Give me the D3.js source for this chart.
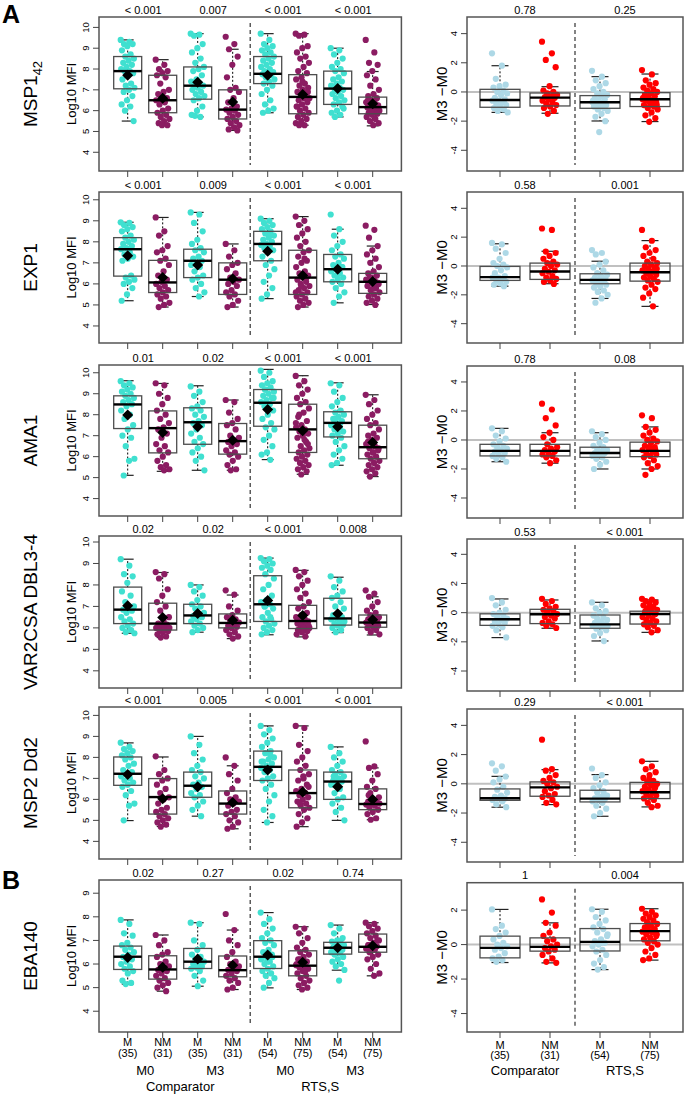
<!DOCTYPE html>
<html>
<head>
<meta charset="utf-8">
<script src="https://cdn.jsdelivr.net/npm/d3@7"></script>
<style>
  body { margin: 0; background: #fff; }
  svg { display: block; }
  text { font-family: "Liberation Sans", Arial, Helvetica, sans-serif; fill: #000; }
</style>
</head>
<body>
<svg id="chart" width="685" height="1094"></svg>
<script>
// ---- data ----
const antigens = ['MSP1', 'EXP1', 'AMA1', 'VAR2CSA DBL3-4', 'MSP2 Dd2', 'EBA140']
const groupLabels = ['M', 'NM', 'M', 'NM', 'M', 'NM', 'M', 'NM']
const groupN = ['(35)', '(31)', '(35)', '(31)', '(54)', '(75)', '(54)', '(75)']
const diffLabels = ['M', 'NM', 'M', 'NM']
const diffN = ['(35)', '(31)', '(54)', '(75)']
const timeLabels = ['M0', 'M3', 'M0', 'M3']
const armLabels = ['Comparator', 'RTS,S']

const pLeft = [
  ['< 0.001', '0.007', '< 0.001', '< 0.001'],
  ['< 0.001', '0.009', '< 0.001', '< 0.001'],
  ['0.01', '0.02', '< 0.001', '< 0.001'],
  ['0.02', '0.02', '< 0.001', '0.008'],
  ['< 0.001', '0.005', '< 0.001', '< 0.001'],
  ['0.02', '0.27', '0.02', '0.74']
]
const pRight = [
  ['0.78', '0.25'], ['0.58', '0.001'], ['0.78', '0.08'],
  ['0.53', '< 0.001'], ['0.29', '< 0.001'], ['1', '0.004']
]

// box stats per group: [lower whisker, q1, median, q3, upper whisker, mean]
const msp1Box = [[5.5, 7.05, 7.9, 8.6, 9.4, 7.7], [5.3, 5.9, 6.5, 7.7, 8.45, 6.6], [5.7, 6.55, 7.2, 8.1, 9.7, 7.37], [5.05, 5.6, 6.05, 7.0, 8.95, 6.42],
  [5.9, 7.3, 7.77, 8.6, 9.7, 7.7], [5.3, 5.85, 6.66, 7.73, 9.7, 6.77], [5.7, 6.3, 7.06, 7.9, 9.0, 7.06], [5.27, 5.85, 6.17, 6.65, 7.88, 6.33]]
const exp1Box = [[5.2, 6.37, 7.65, 8.2, 8.93, 7.34], [4.9, 5.59, 6.07, 7.12, 9.16, 6.31], [5.4, 6.3, 7.1, 7.65, 9.4, 6.9], [4.9, 5.5, 6.2, 7.0, 7.9, 6.25],
  [5.3, 7.1, 7.9, 8.5, 9.1, 7.55], [4.9, 5.5, 6.3, 7.6, 9.2, 6.4], [5.1, 6.1, 6.7, 7.4, 8.6, 6.7], [5.02, 5.55, 6.1, 6.5, 7.8, 6.12]]
const ama1Box = [[5.11, 7.34, 8.49, 8.9, 9.62, 7.98], [5.3, 6.18, 7.36, 8.18, 9.49, 7.15], [5.35, 6.59, 7.64, 8.33, 9.38, 7.42], [5.35, 6.12, 6.74, 7.58, 8.7, 6.78],
  [5.86, 7.45, 8.57, 9.2, 10.16, 8.25], [5.16, 6.2, 7.3, 8.5, 9.86, 7.23], [5.59, 6.94, 7.61, 8.14, 9.52, 7.42], [5.05, 5.9, 6.45, 7.5, 8.95, 6.68]]
const var2Box = [[5.75, 6.2, 6.85, 7.9, 9.2, 7.03], [5.55, 5.9, 6.2, 7.15, 8.58, 6.48], [5.8, 6.2, 6.58, 7.1, 8.0, 6.67], [5.5, 6.0, 6.23, 6.65, 7.53, 6.36],
  [5.68, 6.3, 7.1, 8.43, 9.25, 7.27], [5.58, 5.97, 6.32, 7.05, 8.68, 6.58], [5.78, 6.13, 6.44, 7.38, 8.36, 6.66], [5.67, 6.03, 6.25, 6.6, 7.45, 6.38]]
const msp2Box = [[4.99, 6.67, 7.22, 8.02, 8.69, 7.18], [4.71, 5.3, 6.11, 6.99, 8.02, 6.03], [5.2, 6.1, 6.65, 7.3, 9.0, 6.6], [4.6, 5.3, 5.8, 6.4, 7.6, 5.85],
  [4.9, 6.9, 7.55, 8.3, 9.5, 7.4], [4.7, 5.6, 6.3, 7.4, 9.5, 6.35], [5.0, 6.0, 6.85, 7.3, 8.5, 6.6], [5.03, 5.51, 5.78, 6.5, 7.5, 5.99]]
const eba140Box = [[5.15, 5.77, 6.31, 6.76, 7.87, 6.28], [4.85, 5.36, 5.77, 6.35, 7.23, 5.86], [5.06, 5.81, 6.1, 6.66, 7.75, 6.21], [4.92, 5.46, 5.74, 6.34, 7.44, 5.95],
  [4.99, 5.81, 6.31, 6.99, 8.18, 6.38], [4.92, 5.5, 5.93, 6.56, 7.58, 6.07], [5.74, 6.42, 6.69, 6.92, 7.65, 6.69], [5.5, 6.5, 6.73, 7.27, 7.75, 6.77]]

// M3 - M0 box stats: [lower whisker, q1, median, q3, upper whisker]
const msp1DiffBox = [[-1.4, -1.05, -0.55, 0.18, 1.8], [-1.46, -0.96, -0.39, -0.07, 0.36], [-1.99, -1.12, -0.71, -0.25, 1.05], [-2.03, -1.0, -0.5, -0.05, 1.23]]
const exp1DiffBox = [[-1.4, -1.0, -0.77, -0.03, 1.54], [-1.23, -0.93, -0.38, 0.2, 1.02], [-2.25, -1.23, -0.96, -0.54, 0.33], [-2.8, -1.05, -0.43, 0.2, 1.76]]
const ama1DiffBox = [[-1.5, -1.1, -0.75, -0.3, 0.8], [-1.6, -1.1, -0.75, -0.3, 0.5], [-2.0, -1.2, -0.9, -0.5, 0.5], [-2.0, -1.15, -0.75, -0.15, 0.9]]
const var2DiffBox = [[-1.71, -0.87, -0.45, -0.08, 0.94], [-1.07, -0.75, -0.11, 0.23, 0.87], [-1.94, -1.07, -0.8, -0.16, 0.71], [-1.35, -0.78, -0.1, 0.1, 0.87]]
const msp2DiffBox = [[-1.6, -1.13, -0.99, -0.35, 0.51], [-1.42, -0.85, -0.24, 0.13, 0.97], [-2.22, -1.24, -1.01, -0.44, 0.63], [-1.58, -1.01, -0.58, 0.1, 1.54]]
const eba140DiffBox = [[-1.04, -0.77, -0.19, 0.49, 2.04], [-1.06, -0.38, -0.13, 0.39, 1.26], [-1.45, -0.37, 0.16, 0.93, 2.05], [-0.9, 0.22, 0.78, 1.22, 2.08]]

// individual log10 MFI values, 8 groups per antigen
const msp1Pts = [
  [9.4, 9.3, 9.2, 9.2, 9.1, 8.9, 8.7, 8.6, 8.5, 8.4, 8.3, 8.2, 8.1, 8.0, 7.9, 7.9, 7.8, 7.7, 7.5, 7.3, 7.2, 7.1, 7.0, 6.9, 6.7, 6.5, 6.3, 6.2, 6.0, 5.5],
  [8.45, 8.2, 8.0, 7.9, 7.8, 7.7, 7.6, 7.3, 7.0, 6.9, 6.8, 6.6, 6.5, 6.5, 6.4, 6.3, 6.1, 6.0, 5.9, 5.8, 5.7, 5.6, 5.5, 5.4, 5.3, 5.3],
  [9.7, 9.65, 9.6, 9.2, 9.0, 8.8, 8.5, 8.3, 8.1, 8.0, 7.9, 7.7, 7.5, 7.4, 7.3, 7.2, 7.2, 7.1, 7.0, 6.9, 6.8, 6.7, 6.6, 6.5, 6.2, 6.0, 5.8, 5.7, 5.75],
  [9.55, 9.2, 8.95, 8.6, 8.2, 7.6, 7.1, 7.0, 6.9, 6.6, 6.4, 6.2, 6.1, 6.05, 6.0, 5.9, 5.8, 5.7, 5.6, 5.5, 5.4, 5.3, 5.2, 5.1, 5.05],
  [9.7, 9.4, 9.2, 9.1, 9.0, 8.9, 8.8, 8.7, 8.6, 8.5, 8.4, 8.3, 8.2, 8.1, 8.0, 7.9, 7.85, 7.8, 7.75, 7.7, 7.6, 7.5, 7.4, 7.3, 7.2, 7.0, 6.8, 6.5, 6.3, 6.1, 6.0, 5.9],
  [9.7, 9.65, 9.6, 9.1, 9.0, 8.8, 8.6, 8.5, 8.3, 8.1, 7.9, 7.8, 7.6, 7.5, 7.3, 7.2, 7.1, 7.0, 6.9, 6.8, 6.7, 6.6, 6.6, 6.5, 6.4, 6.3, 6.2, 6.1, 6.0, 5.9, 5.8, 5.7, 5.6, 5.5, 5.4, 5.3, 5.3, 6.9, 7.4, 6.2],
  [9.0, 8.9, 8.7, 8.5, 8.3, 8.1, 8.0, 7.9, 7.8, 7.6, 7.5, 7.4, 7.3, 7.2, 7.1, 7.05, 7.0, 6.9, 6.8, 6.7, 6.6, 6.5, 6.4, 6.3, 6.2, 6.0, 5.9, 5.8, 5.7, 6.1],
  [9.4, 8.8, 8.3, 8.2, 7.9, 7.7, 7.5, 7.2, 7.0, 6.8, 6.7, 6.6, 6.5, 6.4, 6.35, 6.3, 6.25, 6.2, 6.15, 6.1, 6.05, 6.0, 5.95, 5.9, 5.85, 5.8, 5.7, 5.6, 5.5, 5.4, 5.3, 6.5, 6.2, 6.0]
]
const exp1Pts = [
  [8.93, 8.9, 8.8, 8.7, 8.6, 8.5, 8.3, 8.2, 8.1, 8.0, 7.9, 7.8, 7.7, 7.65, 7.5, 7.4, 7.3, 7.2, 7.1, 6.4, 6.3, 6.2, 6.1, 6.0, 5.8, 5.5, 5.2],
  [9.16, 8.5, 8.3, 7.8, 7.6, 7.5, 7.2, 7.1, 6.9, 6.6, 6.4, 6.2, 6.1, 6.0, 5.9, 5.8, 5.7, 5.6, 5.5, 5.4, 5.3, 5.1, 5.0, 4.9],
  [9.4, 9.3, 8.9, 8.5, 8.1, 7.9, 7.7, 7.6, 7.5, 7.3, 7.2, 7.1, 7.0, 6.9, 6.8, 6.6, 6.4, 6.3, 6.2, 6.0, 5.8, 5.6, 5.4],
  [7.9, 7.6, 7.3, 7.0, 6.9, 6.7, 6.5, 6.3, 6.2, 6.1, 6.0, 5.9, 5.7, 5.6, 5.5, 5.4, 5.2, 5.0, 4.9],
  [9.1, 9.0, 8.9, 8.8, 8.7, 8.6, 8.5, 8.4, 8.3, 8.2, 8.1, 8.0, 7.9, 7.85, 7.8, 7.7, 7.6, 7.5, 7.3, 7.1, 6.9, 6.7, 6.4, 6.1, 5.8, 5.5, 5.3, 8.3, 7.9],
  [9.2, 9.0, 8.8, 8.6, 8.4, 8.2, 8.0, 7.8, 7.6, 7.5, 7.3, 7.1, 7.0, 6.8, 6.6, 6.5, 6.4, 6.3, 6.2, 6.1, 6.0, 5.9, 5.8, 5.7, 5.6, 5.5, 5.4, 5.3, 5.2, 5.1, 5.0, 4.9, 6.3, 5.9, 5.6, 7.2],
  [9.3, 8.6, 8.3, 8.0, 7.8, 7.6, 7.4, 7.3, 7.2, 7.0, 6.9, 6.8, 6.7, 6.6, 6.5, 6.4, 6.3, 6.2, 6.1, 6.0, 5.8, 5.6, 5.4, 5.1, 6.8, 6.4],
  [8.77, 8.57, 8.2, 7.8, 7.6, 7.4, 7.2, 7.0, 6.8, 6.6, 6.5, 6.4, 6.3, 6.2, 6.15, 6.1, 6.05, 6.0, 5.9, 5.8, 5.7, 5.6, 5.5, 5.4, 5.3, 5.2, 5.1, 5.0, 6.3, 6.0, 5.8, 6.1]
]
const ama1Pts = [
  [9.6, 9.5, 9.4, 9.3, 9.2, 9.1, 9.0, 8.9, 8.8, 8.7, 8.6, 8.5, 8.4, 8.2, 8.0, 7.8, 7.5, 7.3, 7.0, 6.9, 6.5, 5.9, 5.8, 5.1],
  [9.5, 9.4, 9.0, 8.8, 8.5, 8.2, 8.0, 7.8, 7.6, 7.4, 7.3, 7.1, 6.9, 6.6, 6.5, 6.3, 6.2, 6.0, 5.8, 5.6, 5.5, 5.4, 5.35],
  [9.35, 9.1, 8.9, 8.6, 8.4, 8.3, 8.2, 8.0, 7.9, 7.7, 7.6, 7.5, 7.3, 7.1, 6.9, 6.7, 6.6, 6.4, 6.2, 6.0, 5.8, 5.35],
  [8.7, 8.6, 8.1, 7.8, 7.6, 7.5, 7.3, 7.0, 6.9, 6.8, 6.7, 6.6, 6.5, 6.3, 6.2, 6.1, 6.0, 5.8, 5.6, 5.4, 5.35],
  [10.1, 10.0, 9.8, 9.6, 9.5, 9.4, 9.3, 9.2, 9.1, 9.0, 8.9, 8.8, 8.7, 8.6, 8.5, 8.4, 8.2, 8.0, 7.8, 7.6, 7.4, 7.3, 7.0, 6.8, 6.5, 6.2, 6.1, 5.85, 9.2, 8.8],
  [9.85, 9.6, 9.4, 9.2, 9.0, 8.8, 8.6, 8.5, 8.3, 8.1, 7.9, 7.7, 7.5, 7.4, 7.3, 7.2, 7.1, 7.0, 6.9, 6.7, 6.5, 6.4, 6.3, 6.2, 6.1, 6.0, 5.9, 5.8, 5.7, 5.6, 5.5, 5.4, 5.3, 5.15, 7.6, 6.8, 8.0, 6.6],
  [9.5, 9.4, 9.1, 8.8, 8.6, 8.4, 8.2, 8.1, 8.0, 7.9, 7.8, 7.7, 7.6, 7.5, 7.4, 7.3, 7.2, 7.1, 7.0, 6.9, 6.7, 6.5, 6.3, 6.1, 5.9, 5.7, 5.6, 7.6, 7.8],
  [8.95, 8.7, 8.5, 8.2, 8.0, 7.8, 7.6, 7.5, 7.3, 7.1, 7.0, 6.9, 6.8, 6.6, 6.5, 6.4, 6.3, 6.2, 6.1, 6.0, 5.9, 5.8, 5.7, 5.6, 5.5, 5.4, 5.3, 5.2, 5.05, 6.4, 6.2, 6.7]
]
const var2Pts = [
  [9.2, 8.9, 8.5, 8.4, 8.1, 7.7, 7.5, 7.2, 7.0, 6.9, 6.85, 6.8, 6.7, 6.5, 6.4, 6.3, 6.2, 6.1, 6.0, 5.9, 5.8, 5.75],
  [8.6, 8.5, 8.3, 7.8, 7.5, 7.2, 7.0, 6.8, 6.5, 6.3, 6.2, 6.15, 6.1, 6.0, 5.95, 5.9, 5.85, 5.8, 5.7, 5.6, 5.55, 6.0, 5.9],
  [8.0, 7.9, 7.7, 7.5, 7.3, 7.1, 7.0, 6.9, 6.7, 6.6, 6.55, 6.5, 6.4, 6.3, 6.2, 6.1, 6.0, 5.9, 5.8],
  [7.75, 7.55, 7.0, 6.8, 6.6, 6.5, 6.4, 6.3, 6.25, 6.2, 6.1, 6.05, 6.0, 5.9, 5.8, 5.7, 5.6, 5.5],
  [9.25, 9.2, 9.1, 9.0, 8.9, 8.8, 8.7, 8.5, 8.3, 8.0, 7.8, 7.5, 7.3, 7.2, 7.1, 7.0, 6.9, 6.7, 6.5, 6.4, 6.3, 6.2, 6.1, 6.0, 5.9, 5.8, 5.7, 6.5, 7.0],
  [8.7, 8.6, 8.4, 8.2, 8.0, 7.8, 7.6, 7.4, 7.2, 7.0, 6.9, 6.7, 6.6, 6.5, 6.4, 6.35, 6.3, 6.25, 6.2, 6.1, 6.05, 6.0, 5.95, 5.9, 5.85, 5.8, 5.7, 5.6, 6.3, 6.1, 6.0, 5.9],
  [8.4, 8.2, 7.9, 7.7, 7.5, 7.4, 7.2, 7.0, 6.9, 6.7, 6.6, 6.5, 6.45, 6.4, 6.3, 6.2, 6.15, 6.1, 6.0, 5.9, 5.8, 6.3, 6.2],
  [7.75, 7.6, 7.45, 7.2, 7.0, 6.8, 6.7, 6.6, 6.5, 6.45, 6.4, 6.35, 6.3, 6.25, 6.2, 6.15, 6.1, 6.05, 6.0, 5.9, 5.8, 5.7, 6.3, 6.2, 6.4]
]
const msp2Pts = [
  [8.7, 8.5, 8.4, 8.3, 8.2, 8.1, 8.0, 7.9, 7.7, 7.6, 7.4, 7.3, 7.2, 7.1, 7.0, 6.9, 6.8, 6.7, 6.6, 6.4, 6.2, 5.8, 5.7, 5.0],
  [8.05, 7.4, 7.2, 7.0, 6.9, 6.7, 6.5, 6.3, 6.1, 6.0, 5.8, 5.6, 5.5, 5.4, 5.3, 5.2, 5.1, 5.0, 4.9, 4.8, 4.7],
  [9.0, 8.6, 8.2, 7.9, 7.6, 7.4, 7.3, 7.1, 7.0, 6.8, 6.7, 6.6, 6.5, 6.3, 6.2, 6.1, 5.9, 5.7, 5.5, 5.2],
  [8.0, 7.6, 7.2, 6.9, 6.5, 6.3, 6.1, 6.0, 5.9, 5.8, 5.7, 5.5, 5.4, 5.3, 5.2, 5.0, 4.9, 4.7, 4.6],
  [9.5, 9.3, 9.1, 8.9, 8.7, 8.5, 8.3, 8.2, 8.0, 7.9, 7.8, 7.7, 7.6, 7.5, 7.4, 7.3, 7.1, 7.0, 6.9, 6.7, 6.5, 6.2, 5.9, 5.5, 5.2, 4.9, 7.8, 8.1],
  [9.5, 9.4, 8.6, 8.3, 8.0, 7.8, 7.6, 7.4, 7.2, 7.0, 6.9, 6.7, 6.5, 6.4, 6.3, 6.2, 6.1, 6.0, 5.9, 5.8, 5.7, 5.6, 5.5, 5.3, 5.1, 4.9, 4.7, 6.3, 5.8, 6.6, 7.1],
  [8.5, 8.2, 8.0, 7.8, 7.6, 7.4, 7.3, 7.2, 7.1, 7.0, 6.9, 6.85, 6.8, 6.7, 6.5, 6.3, 6.1, 6.0, 5.8, 5.6, 5.4, 5.0, 6.9, 7.1],
  [8.76, 7.57, 7.5, 7.2, 6.9, 6.6, 6.5, 6.3, 6.1, 6.0, 5.9, 5.85, 5.8, 5.75, 5.7, 5.6, 5.5, 5.4, 5.3, 5.1, 5.03, 5.8, 5.9, 6.2]
]
const eba140Pts = [
  [7.87, 7.7, 7.3, 7.2, 6.9, 6.8, 6.7, 6.6, 6.5, 6.4, 6.3, 6.2, 6.1, 6.0, 5.9, 5.8, 5.7, 5.6, 5.3, 5.2, 5.15],
  [7.23, 7.0, 6.8, 6.5, 6.4, 6.3, 6.1, 6.0, 5.9, 5.8, 5.75, 5.7, 5.6, 5.5, 5.4, 5.3, 5.2, 5.1, 5.0, 4.85],
  [7.75, 7.7, 7.0, 6.8, 6.6, 6.4, 6.3, 6.2, 6.1, 6.05, 6.0, 5.9, 5.85, 5.8, 5.7, 5.5, 5.3, 5.06],
  [8.12, 7.44, 7.0, 6.8, 6.5, 6.3, 6.1, 6.0, 5.9, 5.8, 5.75, 5.7, 5.6, 5.5, 5.4, 5.3, 5.2, 5.0, 4.92],
  [8.18, 7.9, 7.7, 7.5, 7.3, 7.1, 7.0, 6.9, 6.8, 6.6, 6.5, 6.4, 6.3, 6.2, 6.1, 6.0, 5.9, 5.8, 5.7, 5.6, 5.5, 5.4, 5.2, 5.0, 6.3, 6.1],
  [7.58, 7.5, 7.3, 7.1, 6.9, 6.7, 6.6, 6.5, 6.4, 6.3, 6.2, 6.1, 6.0, 5.95, 5.9, 5.85, 5.8, 5.7, 5.6, 5.5, 5.4, 5.3, 5.2, 5.1, 5.0, 4.92, 6.0, 5.7, 6.2],
  [7.65, 7.5, 7.3, 7.1, 7.0, 6.95, 6.9, 6.85, 6.8, 6.75, 6.7, 6.65, 6.6, 6.5, 6.45, 6.4, 6.3, 6.2, 6.1, 6.0, 5.9, 5.75, 5.3, 6.7, 6.6],
  [7.75, 7.7, 7.6, 7.5, 7.4, 7.3, 7.2, 7.1, 7.0, 6.9, 6.8, 6.75, 6.7, 6.65, 6.6, 6.5, 6.4, 6.3, 6.2, 6.0, 5.8, 5.6, 5.5, 6.8, 7.0, 6.6]
]

// M3 - M0 differences, 4 groups per antigen
const msp1Diff = [
  [2.65, 1.8, 0.9, 0.5, 0.4, 0.3, 0.1, 0.0, -0.1, -0.2, -0.4, -0.5, -0.6, -0.6, -0.7, -0.8, -0.9, -1.0, -1.1, -1.2, -1.3, -1.4],
  [3.45, 2.65, 2.2, 1.7, 0.4, 0.1, 0.0, -0.1, -0.2, -0.3, -0.35, -0.4, -0.5, -0.6, -0.7, -0.8, -0.9, -1.0, -1.1, -1.3, -1.5],
  [1.45, 1.05, 0.8, 0.6, 0.4, 0.2, 0.0, -0.1, -0.2, -0.3, -0.4, -0.5, -0.6, -0.7, -0.75, -0.8, -0.9, -1.0, -1.0, -1.1, -1.2, -1.3, -1.5, -1.7, -2.0, -2.75, -0.6, -0.9],
  [1.5, 1.2, 0.8, 0.6, 0.5, 0.3, 0.2, 0.1, 0.0, -0.1, -0.2, -0.3, -0.4, -0.5, -0.55, -0.6, -0.7, -0.8, -0.9, -1.0, -1.1, -1.2, -1.4, -1.6, -1.8, -2.05, -0.4, -0.7, -0.3, -0.9]
]
const exp1Diff = [
  [1.6, 1.5, 1.2, 0.9, 0.5, 0.2, 0.1, 0.0, -0.1, -0.3, -0.5, -0.7, -0.8, -0.8, -0.9, -1.0, -1.1, -1.2, -1.3, -1.4],
  [2.6, 2.5, 1.0, 0.9, 0.7, 0.5, 0.3, 0.2, 0.1, 0.0, -0.2, -0.3, -0.4, -0.5, -0.7, -0.8, -0.9, -1.0, -1.1, -1.25],
  [1.1, 0.9, 0.8, 0.3, 0.1, -0.1, -0.3, -0.5, -0.6, -0.7, -0.8, -0.9, -0.95, -1.0, -1.1, -1.2, -1.3, -1.4, -1.5, -1.7, -1.8, -2.0, -2.25, -2.55, -0.9, -1.1],
  [2.5, 1.75, 1.3, 1.1, 0.9, 0.7, 0.5, 0.3, 0.2, 0.1, 0.0, -0.1, -0.2, -0.3, -0.4, -0.5, -0.6, -0.7, -0.8, -0.9, -1.0, -1.1, -1.3, -1.5, -1.6, -1.9, -2.2, -2.8, -0.4, -0.2]
]
const ama1Diff = [
  [0.8, 0.6, 0.3, 0.1, -0.1, -0.3, -0.4, -0.5, -0.6, -0.7, -0.8, -0.9, -1.0, -1.1, -1.2, -1.3, -1.5],
  [2.5, 2.1, 1.5, 1.0, 0.5, 0.2, 0.0, -0.3, -0.5, -0.6, -0.7, -0.8, -0.9, -1.0, -1.1, -1.2, -1.4, -1.6],
  [0.6, 0.4, 0.2, 0.0, -0.2, -0.4, -0.5, -0.6, -0.7, -0.8, -0.9, -0.9, -1.0, -1.1, -1.2, -1.3, -1.5, -1.7, -2.0, -0.8, -1.0],
  [1.7, 1.5, 0.9, 0.7, 0.5, 0.3, 0.1, 0.0, -0.1, -0.2, -0.4, -0.5, -0.6, -0.7, -0.8, -0.9, -1.0, -1.1, -1.2, -1.4, -1.6, -1.8, -2.0, -2.4, -0.7, -0.5]
]
const var2Diff = [
  [1.0, 0.7, 0.5, 0.2, 0.0, -0.1, -0.2, -0.3, -0.4, -0.5, -0.6, -0.7, -0.8, -0.9, -1.0, -1.2, -1.7],
  [0.95, 0.8, 0.6, 0.4, 0.3, 0.2, 0.1, 0.0, -0.1, -0.2, -0.3, -0.4, -0.6, -0.7, -0.8, -0.9, -1.05],
  [0.7, 0.5, 0.3, 0.1, 0.0, -0.2, -0.3, -0.4, -0.5, -0.6, -0.7, -0.8, -0.85, -0.9, -1.0, -1.1, -1.2, -1.4, -1.6, -1.95, -0.7, -0.9],
  [0.95, 0.9, 0.8, 0.7, 0.6, 0.5, 0.4, 0.3, 0.2, 0.1, 0.0, -0.1, -0.2, -0.3, -0.4, -0.5, -0.6, -0.7, -0.8, -0.9, -1.0, -1.2, -1.35, 0.1, -0.1, 0.3]
]
const msp2Diff = [
  [1.4, 1.2, 0.9, 0.5, 0.3, 0.1, -0.2, -0.4, -0.6, -0.8, -0.9, -1.0, -1.0, -1.1, -1.2, -1.4, -1.6],
  [3.02, 1.0, 0.9, 0.6, 0.4, 0.2, 0.1, 0.0, -0.2, -0.3, -0.5, -0.7, -0.8, -0.9, -1.1, -1.3, -1.4],
  [1.05, 0.6, 0.4, 0.1, -0.1, -0.3, -0.5, -0.6, -0.8, -0.9, -1.0, -1.05, -1.1, -1.2, -1.3, -1.5, -1.7, -2.0, -2.22, -0.7, -1.0],
  [1.54, 1.2, 1.0, 0.8, 0.6, 0.4, 0.2, 0.1, 0.0, -0.1, -0.2, -0.3, -0.4, -0.5, -0.6, -0.7, -0.8, -0.9, -1.0, -1.1, -1.3, -1.5, -1.6, -0.5, -0.2, 0.3]
]
const eba140Diff = [
  [2.04, 1.1, 0.9, 0.7, 0.5, 0.3, 0.1, 0.0, -0.1, -0.2, -0.3, -0.5, -0.7, -0.8, -0.9, -1.0],
  [2.62, 1.86, 1.26, 1.1, 0.7, 0.5, 0.3, 0.2, 0.0, -0.1, -0.2, -0.3, -0.4, -0.6, -0.8, -1.0, -1.06],
  [2.05, 1.9, 1.6, 1.4, 1.2, 1.0, 0.9, 0.7, 0.5, 0.3, 0.2, 0.1, 0.0, -0.1, -0.3, -0.4, -0.6, -0.9, -1.1, -1.3, -1.45, 0.6, 0.1],
  [2.08, 1.9, 1.8, 1.7, 1.6, 1.5, 1.4, 1.3, 1.2, 1.1, 1.0, 0.9, 0.8, 0.75, 0.7, 0.6, 0.5, 0.4, 0.3, 0.2, 0.1, 0.0, -0.2, -0.4, -0.6, -0.8, -0.9, 0.8, 1.0, 0.6]
]

const boxesLeft = [msp1Box, exp1Box, ama1Box, var2Box, msp2Box, eba140Box]
const boxesRight = [msp1DiffBox, exp1DiffBox, ama1DiffBox, var2DiffBox, msp2DiffBox, eba140DiffBox]
const ptsLeft = [msp1Pts, exp1Pts, ama1Pts, var2Pts, msp2Pts, eba140Pts]
const ptsRight = [msp1Diff, exp1Diff, ama1Diff, var2Diff, msp2Diff, eba140Diff]

// ---- layout ----
const svg = d3.select('#chart')
const colLeft = { x0: 99, x1: 401.4 }
const colRight = { x0: 467, x1: 683 }
const rowsL = [[17, 171], [192, 343], [365, 516], [536, 688], [707, 859], [880, 1032]]
const rowsR = [[17, 171], [192, 343], [366, 518], [539, 691], [709, 862], [882.7, 1032]]
const yDomL = [[3.1, 10.5], [3.19, 10.37], [3.17, 10.37], [3.2, 10.28], [3.16, 10.4], [3.12, 9.56]]
const yDomR = [[-5.42, 5.14], [-5.34, 5.13], [-5.38, 5.1], [-5.37, 5.05], [-5.35, 5.12], [-5.07, 3.59]]
const xL = d3.scaleLinear().domain([0.18, 8.82]).range([colLeft.x0, colLeft.x1])
const xR = d3.scaleLinear().domain([0.34, 4.66]).range([colRight.x0, colRight.x1])
const leftColors = ['#40E0D0', '#8B1C62']
const rightColors = ['#ADD8E6', '#FF0000']

// deterministic horizontal spread for the strip points
const spread = i => ((i * 0.6180339887) % 1) - 0.5

function panel (o) {
  const g = svg.append('g')
  const { x, y, top, bot, left, right } = o

  if (o.zero) {
    g.append('line').attr('x1', left).attr('x2', right).attr('y1', y(0)).attr('y2', y(0))
      .attr('stroke', '#c0c0c0').attr('stroke-width', 2)
  }
  g.append('line').attr('x1', x(o.sep)).attr('x2', x(o.sep)).attr('y1', top + 6).attr('y2', bot - 6)
    .attr('stroke', '#333').attr('stroke-width', 1.2).attr('stroke-dasharray', '4,3')

  const hw = x(1.4) - x(1)
  const cw = x(1.17) - x(1)
  const jw = x(1 + o.jitter) - x(1)

  // whiskers
  o.boxes.forEach((b, i) => {
    const cx = x(i + 1)
    g.append('line').attr('x1', cx).attr('x2', cx).attr('y1', y(b[3])).attr('y2', y(b[4]))
      .attr('stroke', '#000').attr('stroke-dasharray', '2,2')
    g.append('line').attr('x1', cx).attr('x2', cx).attr('y1', y(b[1])).attr('y2', y(b[0]))
      .attr('stroke', '#000').attr('stroke-dasharray', '2,2')
    ;[b[0], b[4]].forEach(v => {
      g.append('line').attr('x1', cx - cw).attr('x2', cx + cw).attr('y1', y(v)).attr('y2', y(v))
        .attr('stroke', '#222').attr('stroke-width', 1.2)
    })
  })

  // points
  o.pts.forEach((vals, i) => {
    g.append('g').selectAll('circle').data(vals).join('circle')
      .attr('cx', (d, j) => x(i + 1) + spread(j) * 2 * jw)
      .attr('cy', d => y(d))
      .attr('r', 3.1)
      .attr('fill', o.colors[i % 2])
  })

  // boxes, medians, means
  o.boxes.forEach((b, i) => {
    const cx = x(i + 1)
    g.append('rect').attr('x', cx - hw).attr('width', 2 * hw).attr('y', y(b[3])).attr('height', y(b[1]) - y(b[3]))
      .attr('fill', 'none').attr('stroke', '#4d4d4d').attr('stroke-width', 1.3)
    g.append('line').attr('x1', cx - hw).attr('x2', cx + hw).attr('y1', y(b[2])).attr('y2', y(b[2]))
      .attr('stroke', '#000').attr('stroke-width', 2.4)
    if (b.length > 5) {
      const my = y(b[5]), d = 5.5
      g.append('path').attr('d', `M${cx},${my - d}L${cx + d},${my}L${cx},${my + d}L${cx - d},${my}Z`).attr('fill', '#000')
    }
  })

  // frame
  g.append('rect').attr('x', left).attr('y', top).attr('width', right - left).attr('height', bot - top)
    .attr('fill', 'none').attr('stroke', '#555').attr('stroke-width', 1.5)

  // y axis
  o.yTicks.forEach(t => {
    g.append('line').attr('x1', left - 6).attr('x2', left).attr('y1', y(t)).attr('y2', y(t)).attr('stroke', '#444')
    g.append('text').attr('transform', `translate(${left - 10.5},${y(t)}) rotate(-90)`)
      .attr('text-anchor', 'middle').attr('font-size', 9.5).text(t)
  })
  // x ticks
  o.boxes.forEach((b, i) => {
    g.append('line').attr('x1', x(i + 1)).attr('x2', x(i + 1)).attr('y1', bot).attr('y2', bot + 6).attr('stroke', '#444')
  })
  // p values
  o.pvals.forEach((p, k) => {
    g.append('text').attr('x', x(2 * k + 1.5) + o.pShift).attr('y', top - 3.5)
      .attr('text-anchor', 'middle').attr('font-size', 11).text(p)
  })
  // axis title
  g.append('text').attr('transform', `translate(${o.titleX},${(top + bot) / 2}) rotate(-90)`)
    .attr('text-anchor', 'middle').attr('font-size', o.titleSize).text(o.title)
}

antigens.forEach((name, r) => {
  const [tL, bL] = rowsL[r]
  const [tR, bR] = rowsR[r]
  const yl = d3.scaleLinear().domain(yDomL[r]).range([bL, tL])
  const yr = d3.scaleLinear().domain(yDomR[r]).range([bR, tR])
  panel({
    x: xL, y: yl, top: tL, bot: bL, left: colLeft.x0, right: colLeft.x1,
    sep: 4.5, jitter: 0.2, boxes: boxesLeft[r], pts: ptsLeft[r], colors: leftColors,
    yTicks: d3.range(4, Math.floor(yDomL[r][1]) + 1), pvals: pLeft[r], pShift: -2,
    title: 'Log10 MFI', titleX: 76, titleSize: 13
  })
  panel({
    x: xR, y: yr, top: tR, bot: bR, left: colRight.x0, right: colRight.x1,
    sep: 2.5, jitter: 0.16, boxes: boxesRight[r], pts: ptsRight[r], colors: rightColors, zero: true,
    yTicks: d3.range(-4, Math.floor(yDomR[r][1]) + 1, 2), pvals: pRight[r], pShift: 0,
    title: 'M3 \u2212M0', titleX: 447, titleSize: 15
  })

  // antigen name
  const lab = svg.append('text').attr('transform', `translate(37,${(tL + bL) / 2}) rotate(-90)`)
    .attr('text-anchor', 'middle').attr('font-size', 19)
  lab.append('tspan').text(name)
  if (r === 0) lab.append('tspan').attr('font-size', 13).attr('dy', 5).text('42')
})

// panel letters
svg.append('text').attr('x', 2).attr('y', 23).attr('font-size', 25).attr('font-weight', 'bold').text('A')
svg.append('text').attr('x', 2).attr('y', 889).attr('font-size', 25).attr('font-weight', 'bold').text('B')

// bottom category labels
groupLabels.forEach((d, i) => {
  svg.append('text').attr('x', xL(i + 1)).attr('y', 1046).attr('text-anchor', 'middle').attr('font-size', 11).text(d)
  svg.append('text').attr('x', xL(i + 1)).attr('y', 1056.5).attr('text-anchor', 'middle').attr('font-size', 11).text(groupN[i])
})
timeLabels.forEach((d, k) => {
  svg.append('text').attr('x', xL(2 * k + 1.5)).attr('y', 1075).attr('text-anchor', 'middle').attr('font-size', 13).text(d)
})
armLabels.forEach((d, k) => {
  svg.append('text').attr('x', xL(4 * k + 2.5)).attr('y', 1090.5).attr('text-anchor', 'middle').attr('font-size', 13).text(d)
})
diffLabels.forEach((d, i) => {
  svg.append('text').attr('x', xR(i + 1)).attr('y', 1048.5).attr('text-anchor', 'middle').attr('font-size', 11).text(d)
  svg.append('text').attr('x', xR(i + 1)).attr('y', 1058.5).attr('text-anchor', 'middle').attr('font-size', 11).text(diffN[i])
})
armLabels.forEach((d, k) => {
  svg.append('text').attr('x', xR(2 * k + 1.5)).attr('y', 1074.5).attr('text-anchor', 'middle').attr('font-size', 13).text(d)
})
</script>
</body>
</html>
